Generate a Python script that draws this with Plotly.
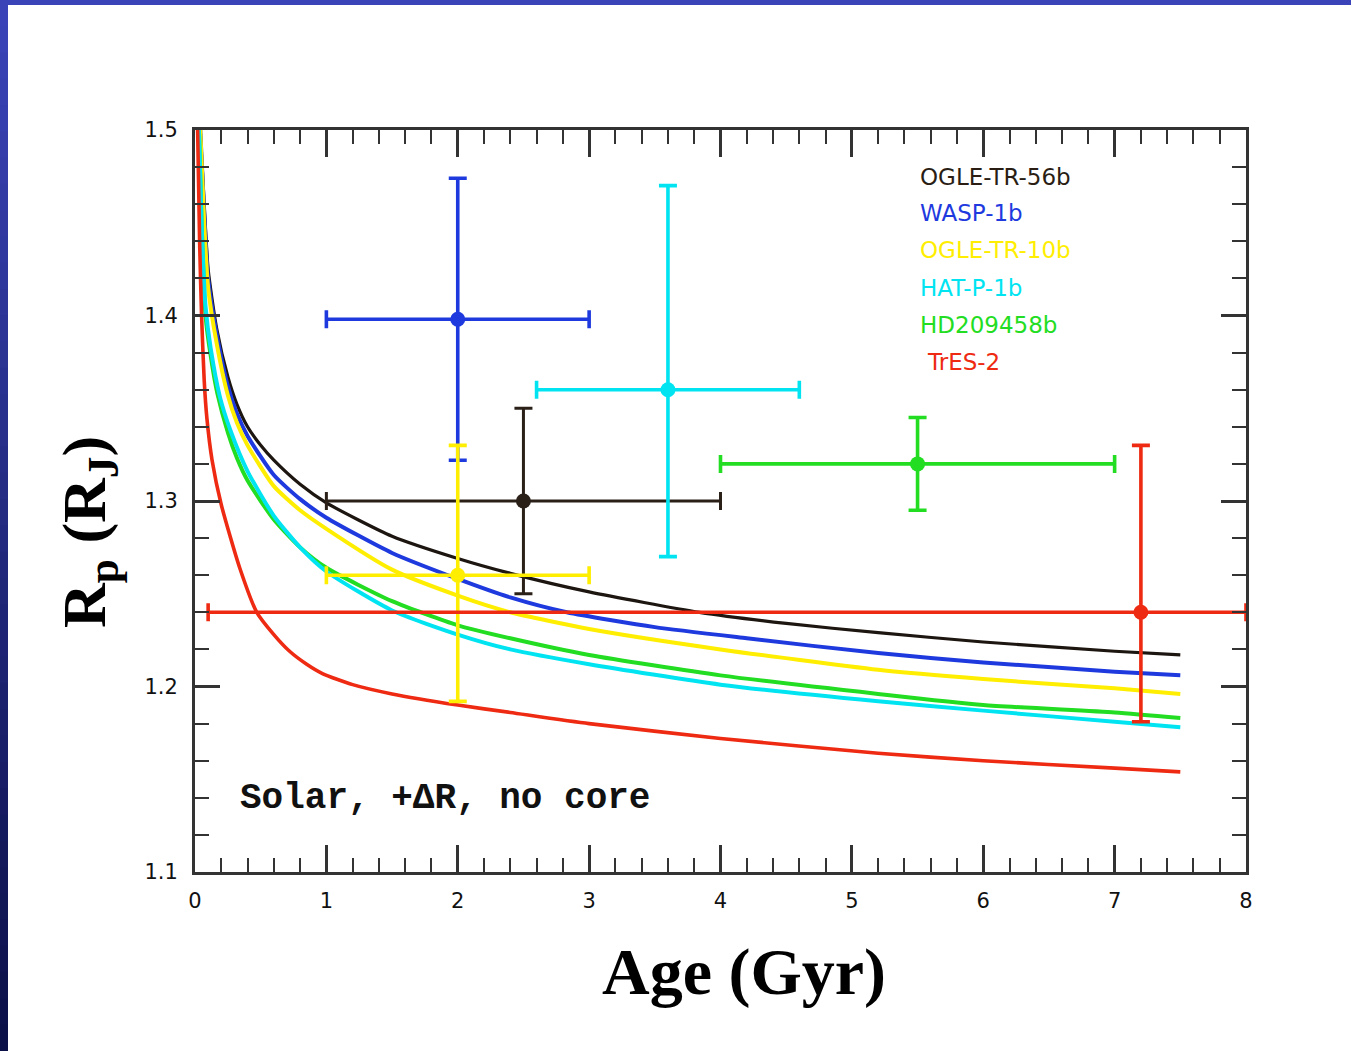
import plotly.graph_objects as go

# ---------------- data ----------------
# model curves (age in Gyr, radius in R_J)
black_age = [0.04, 0.07, 0.10, 0.165, 0.25, 0.32, 0.40, 0.50, 0.60, 0.80, 1.0, 1.5, 2.0, 2.4, 3.0, 3.84, 4.5, 5.2, 6.0, 7.0, 7.5]
black_rad = [1.50, 1.46, 1.425, 1.393, 1.367, 1.352, 1.340, 1.330, 1.322, 1.309, 1.299, 1.281, 1.269, 1.261, 1.251, 1.240, 1.234, 1.229, 1.224, 1.219, 1.217]

blue_age = [0.04, 0.07, 0.10, 0.165, 0.25, 0.32, 0.40, 0.60, 0.80, 1.0, 1.5, 2.0, 2.4, 2.83, 3.5, 4.2, 5.2, 6.0, 7.0, 7.5]
blue_rad = [1.50, 1.455, 1.42, 1.39, 1.362, 1.347, 1.335, 1.314, 1.301, 1.291, 1.272, 1.258, 1.248, 1.240, 1.232, 1.226, 1.218, 1.213, 1.208, 1.206]

yellow_age = [0.04, 0.07, 0.10, 0.165, 0.25, 0.32, 0.40, 0.60, 0.80, 1.0, 1.5, 2.0, 2.4, 3.0, 4.0, 5.2, 6.0, 7.0, 7.5]
yellow_rad = [1.50, 1.45, 1.415, 1.385, 1.357, 1.342, 1.330, 1.308, 1.295, 1.285, 1.263, 1.249, 1.240, 1.231, 1.220, 1.209, 1.204, 1.199, 1.196]

cyan_age = [0.03, 0.05, 0.08, 0.12, 0.19, 0.27, 0.40, 0.60, 0.80, 1.0, 1.5, 2.0, 2.4, 3.0, 4.0, 5.2, 6.0, 7.0, 7.5]
cyan_rad = [1.50, 1.45, 1.405, 1.382, 1.356, 1.338, 1.316, 1.292, 1.275, 1.262, 1.241, 1.228, 1.220, 1.212, 1.201, 1.192, 1.187, 1.181, 1.178]

green_age = [0.03, 0.05, 0.08, 0.12, 0.17, 0.25, 0.32, 0.40, 0.60, 0.80, 1.0, 1.5, 2.0, 2.4, 3.0, 4.0, 5.2, 6.0, 7.0, 7.5]
green_rad = [1.50, 1.45, 1.40, 1.378, 1.358, 1.337, 1.323, 1.311, 1.290, 1.275, 1.264, 1.246, 1.233, 1.226, 1.217, 1.206, 1.196, 1.190, 1.186, 1.183]

red_age = [0.02, 0.035, 0.05, 0.07, 0.09, 0.13, 0.20, 0.34, 0.47, 0.60, 0.72, 0.85, 0.97, 1.2, 1.5, 2.0, 2.4, 3.0, 4.0, 5.2, 6.0, 7.0, 7.5]
red_rad = [1.50, 1.44, 1.40, 1.365, 1.345, 1.322, 1.298, 1.264, 1.240, 1.228, 1.219, 1.212, 1.207, 1.201, 1.196, 1.190, 1.186, 1.180, 1.172, 1.164, 1.160, 1.156, 1.154]

# observed planets
planet_names = ["OGLE-TR-56b", "WASP-1b", "OGLE-TR-10b", "HAT-P-1b", "HD209458b", "TrES-2"]
planet_age = [2.5, 2.0, 2.0, 3.6, 5.5, 7.2]
planet_age_minus = [1.5, 1.0, 1.0, 1.0, 1.5, 7.1]
planet_age_plus = [1.5, 1.0, 1.0, 1.0, 1.5, 0.8]
planet_rad = [1.300, 1.398, 1.260, 1.360, 1.320, 1.240]
planet_rad_minus = [0.050, 0.076, 0.068, 0.090, 0.025, 0.059]
planet_rad_plus = [0.050, 0.076, 0.070, 0.110, 0.025, 0.090]

x_ticks = [0, 1, 2, 3, 4, 5, 6, 7, 8]
y_ticks = [1.1, 1.2, 1.3, 1.4, 1.5]

# ---------------- styling ----------------
colors = {
    "OGLE-TR-56b": "#1c1510",
    "WASP-1b": "#1e3ade",
    "OGLE-TR-10b": "#ffee00",
    "HAT-P-1b": "#00e4f2",
    "HD209458b": "#22dd22",
    "TrES-2": "#ee2a12",
}
bar_colors = dict(colors)
bar_colors["OGLE-TR-56b"] = "#2a2018"

curves = [
    ("OGLE-TR-56b", black_age, black_rad, 3.2),
    ("WASP-1b", blue_age, blue_rad, 4),
    ("OGLE-TR-10b", yellow_age, yellow_rad, 4),
    ("HD209458b", green_age, green_rad, 4),
    ("HAT-P-1b", cyan_age, cyan_rad, 4),
    ("TrES-2", red_age, red_rad, 3.6),
]

fig = go.Figure()
for name, xs, ys, w in curves:
    fig.add_trace(go.Scatter(
        x=xs, y=ys, mode="lines", name=name,
        line=dict(color=colors[name], width=w, shape="spline", smoothing=0.6),
        showlegend=False, hoverinfo="skip"))

order = [0, 1, 3, 4, 2, 5]
for i in order:
    name = planet_names[i]
    c = bar_colors[name]
    thick = 3 if i == 0 else 3.6
    fig.add_trace(go.Scatter(
        x=[planet_age[i]], y=[planet_rad[i]], mode="markers",
        marker=dict(color=c, size=15, symbol="circle"),
        error_x=dict(type="data", symmetric=False, array=[planet_age_plus[i]],
                     arrayminus=[planet_age_minus[i]], color=c, thickness=thick, width=9),
        error_y=dict(type="data", symmetric=False, array=[planet_rad_plus[i]],
                     arrayminus=[planet_rad_minus[i]], color=c, thickness=thick, width=9),
        showlegend=False, hoverinfo="skip"))

# ---------------- layout ----------------
W, H = 1351, 1051
L, R, T, B = 195, 105, 130, 179
pw, ph = W - L - R, H - T - B


def px(xp):
    return (xp - L) / pw


def py(yp):
    return (H - B - yp) / ph


axis_common = dict(
    showline=True, linecolor="#333333", linewidth=3, mirror="allticks",
    ticks="inside", tickcolor="#333333", tickwidth=2.5,
    showgrid=False, zeroline=False,
    tickfont=dict(family="DejaVu Sans", size=21, color="#111111"),
)

fig.update_xaxes(range=[0, 8], tickvals=x_ticks, ticktext=[str(v) for v in x_ticks],
                 ticklen=27, ticklabelstandoff=8,
                 minor=dict(dtick=0.2, ticklen=14, tickwidth=2, tickcolor="#333333", ticks="inside", showgrid=False),
                 **axis_common)
fig.update_yaxes(range=[1.1, 1.5], tickvals=y_ticks, ticktext=["%.1f" % v for v in y_ticks],
                 ticklen=25, ticklabelstandoff=10,
                 minor=dict(dtick=0.02, ticklen=14, tickwidth=2, tickcolor="#333333", ticks="inside", showgrid=False),
                 **axis_common)

annotations = []
leg_y = [177, 213, 250, 288, 325, 362]
for i, name in enumerate(planet_names):
    annotations.append(dict(
        x=px(918 if name != "TrES-2" else 925), y=py(leg_y[i]), xref="paper", yref="paper",
        text=name, showarrow=False, xanchor="left", yanchor="middle",
        font=dict(family="DejaVu Sans", size=23, color=colors[name] if name != "OGLE-TR-56b" else "#2a1e14")))

annotations.append(dict(
    x=px(238), y=py(798), xref="paper", yref="paper", text="<b>Solar, +ΔR, no core</b>",
    showarrow=False, xanchor="left", yanchor="middle",
    font=dict(family="Liberation Mono", size=36, color="#111111")))

annotations.append(dict(
    x=px(744), y=py(972), xref="paper", yref="paper", text="<b>Age (Gyr)</b>",
    showarrow=False, xanchor="center", yanchor="middle",
    font=dict(family="Liberation Serif", size=66, color="#000000")))

annotations.append(dict(
    x=px(88), y=py(532), xref="paper", yref="paper", text="<b>R<sub>p</sub> (R<sub>J</sub>)</b>",
    showarrow=False, xanchor="center", yanchor="middle", textangle=-90,
    font=dict(family="Liberation Serif", size=62, color="#000000")))

shapes = []
# top blue band
shapes.append(dict(type="rect", xref="paper", yref="paper", x0=px(0), x1=px(W), y0=py(5), y1=py(0),
                   fillcolor="#3a44b8", line=dict(width=0), layer="above"))
# left gradient band
n = 40
c0 = (0x3a, 0x44, 0xb8)
c1 = (0x0c, 0x10, 0x48)
for k in range(n):
    t = k / (n - 1)
    col = "rgb(%d,%d,%d)" % tuple(round(c0[j] + (c1[j] - c0[j]) * t) for j in range(3))
    y0p = k * H / n
    y1p = (k + 1) * H / n + 1
    shapes.append(dict(type="rect", xref="paper", yref="paper", x0=px(0), x1=px(8),
                       y0=py(y1p), y1=py(y0p), fillcolor=col, line=dict(width=0), layer="above"))

fig.update_layout(
    width=W, height=H,
    margin=dict(l=L, r=R, t=T, b=B),
    paper_bgcolor="white", plot_bgcolor="white",
    annotations=annotations, shapes=shapes,
    showlegend=False,
)

fig.write_html("out.html", config={"displayModeBar": False},
               post_script="document.body.style.margin='0';document.body.style.overflow='hidden';")
